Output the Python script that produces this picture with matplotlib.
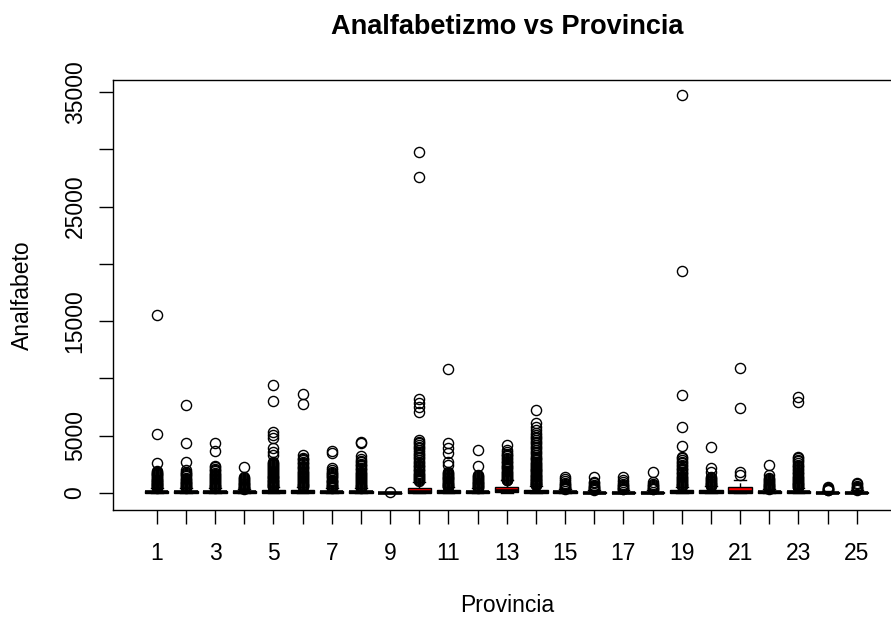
import matplotlib
matplotlib.use("Agg")
import matplotlib.pyplot as plt

plt.rcParams["font.family"] = ["Liberation Sans", "DejaVu Sans"]

provincias = list(range(1, 26))

# box statistics per province
q1 = [30, 25, 30, 20, 35, 35, 25, 30, 5, 40, 35, 25, 100, 45, 20, 15, 15, 15, 35, 40, 40, 20, 30, 10, 15]
med = [70, 60, 70, 50, 80, 85, 60, 70, 20, 90, 80, 60, 180, 100, 50, 40, 40, 40, 80, 100, 100, 50, 70, 30, 40]
q3 = [200, 180, 200, 160, 230, 240, 180, 200, 40, 420, 230, 180, 500, 280, 140, 120, 120, 120, 230, 280, 560, 150, 200, 90, 110]
whis_hi = [450, 400, 450, 350, 520, 540, 400, 450, 90, 1000, 520, 400, 1100, 620, 320, 270, 280, 270, 520, 620, 1150, 340, 450, 200, 250]

outliers = [
    [15500, 5150, 2590, 1950, 1870, 1780, 1700, 1620, 1540, 1460, 1390, 1320, 1250, 1180, 1110, 1050, 990, 930, 870, 810, 760, 710, 660, 610, 560, 510, 470],
    [7680, 4390, 2740, 1980, 1870, 1760, 1650, 1550, 1450, 1350, 1260, 1170, 1080, 1000, 920, 840, 770, 700, 640, 580, 520, 460],
    [4390, 3640, 2360, 2240, 2120, 2000, 1890, 1780, 1670, 1570, 1470, 1370, 1280, 1190, 1100, 1010, 930, 850, 780, 710, 640, 580, 520, 470],
    [2240, 1420, 1330, 1240, 1150, 1060, 980, 900, 830, 760, 690, 630, 570, 510, 460, 410, 370],
    [9400, 8030, 5350, 5060, 4770, 3900, 3600, 3320, 2730, 2600, 2500, 2420, 2340, 2250, 2170, 2090, 2000, 1920, 1840, 1760, 1680, 1600, 1520, 1440, 1360, 1290, 1220, 1150, 1080, 1010, 940, 880, 820, 760, 700, 640, 580, 530],
    [8640, 7770, 3350, 3100, 2980, 2860, 2740, 2620, 2500, 2390, 2280, 2170, 2060, 1950, 1850, 1750, 1650, 1550, 1460, 1370, 1280, 1190, 1110, 1030, 950, 880, 810, 740, 680, 620, 570],
    [3690, 3520, 2150, 1990, 1880, 1770, 1660, 1560, 1460, 1360, 1270, 1180, 1090, 1010, 930, 850, 780, 710, 640, 580, 520, 460],
    [4480, 4400, 3230, 2940, 2800, 2680, 2560, 2440, 2320, 2200, 2090, 1980, 1870, 1760, 1660, 1560, 1460, 1370, 1280, 1190, 1100, 1020, 940, 860, 790, 720, 650, 590, 530, 480],
    [130],
    [29800, 27600, 8180, 7830, 7480, 7100, 4630, 4480, 4330, 4190, 4040, 3900, 3750, 3600, 3450, 3310, 3170, 3030, 2880, 2740, 2590, 2470, 2350, 2230, 2110, 2000, 1890, 1780, 1680, 1580, 1480, 1390, 1300, 1220, 1140, 1060],
    [10800, 4330, 3900, 3460, 2730, 2440, 1870, 1780, 1690, 1600, 1510, 1430, 1350, 1270, 1190, 1110, 1040, 970, 900, 830, 770, 710, 650, 600, 550],
    [3750, 2360, 1570, 1480, 1390, 1300, 1220, 1140, 1060, 980, 910, 840, 770, 700, 640, 580, 520, 460],
    [4190, 3750, 3600, 3450, 3320, 3200, 3080, 2960, 2840, 2720, 2600, 2490, 2380, 2270, 2160, 2060, 1960, 1860, 1770, 1680, 1590, 1500, 1420, 1340, 1260, 1180, 1120],
    [7250, 6080, 5790, 5500, 5210, 5050, 4900, 4770, 4620, 4480, 4330, 4180, 4040, 3900, 3750, 3600, 3460, 3320, 3170, 3050, 2950, 2850, 2750, 2650, 2550, 2450, 2350, 2270, 2200, 2120, 2050, 1970, 1900, 1820, 1750, 1670, 1600, 1530, 1460, 1390, 1330, 1260, 1200, 1140, 1080, 1020, 970, 920, 870, 820, 780, 740, 700],
    [1370, 1200, 1050, 900, 780, 680, 600, 530, 460, 400, 350],
    [1420, 990, 850, 720, 620, 540, 470, 400, 340, 290],
    [1370, 1120, 950, 800, 680, 580, 500, 430, 370, 310],
    [1800, 990, 800, 680, 580, 500, 430, 370, 310],
    [34750, 19380, 8560, 5730, 4100, 3170, 3020, 2880, 2740, 2600, 2470, 2340, 2210, 2090, 1970, 1850, 1740, 1630, 1520, 1420, 1320, 1220, 1130, 1040, 950, 870, 800, 730, 660, 600],
    [3990, 2150, 1860, 1420, 1330, 1240, 1150, 1060, 980, 900, 830, 760, 700, 640],
    [10890, 7390, 1860, 1570],
    [2440, 1570, 1280, 1190, 1100, 1020, 940, 860, 790, 720, 660, 600, 540, 490, 440, 390],
    [8350, 7920, 3170, 3040, 2900, 2760, 2620, 2490, 2360, 2230, 2100, 1980, 1860, 1750, 1640, 1530, 1430, 1330, 1240, 1150, 1060, 980, 900, 820, 750, 680, 620, 560, 500],
    [550, 450, 380, 320, 270, 230],
    [850, 750, 650, 560, 480, 410, 350, 300],
]

stats = []
for i in range(len(provincias)):
    stats.append({
        "q1": q1[i], "med": med[i], "q3": q3[i],
        "whislo": 0, "whishi": whis_hi[i],
        "fliers": outliers[i],
    })

fig = plt.figure(figsize=(8.91, 6.17), dpi=100)
ax = fig.add_axes([113 / 891, 1 - 510 / 617, 787.5 / 891, 430 / 617])

ax.bxp(
    stats,
    positions=provincias,
    widths=0.8,
    capwidths=0.4,
    patch_artist=True,
    boxprops=dict(facecolor="red", edgecolor="black", linewidth=1),
    medianprops=dict(color="black", linewidth=2.6, solid_capstyle="butt"),
    whiskerprops=dict(color="black", linewidth=1, linestyle=(0, (3, 2))),
    capprops=dict(color="black", linewidth=1),
    flierprops=dict(marker="o", markerfacecolor="none", markeredgecolor="black",
                    markersize=7.3, markeredgewidth=1),
)

ax.set_xlim(-0.5, 26.5)
ax.set_ylim(-1480, 36050)

ax.set_xticks(provincias)
ax.set_xticklabels([str(p) if p % 2 == 1 else "" for p in provincias])
yt = [0, 5000, 10000, 15000, 20000, 25000, 30000, 35000]
ax.set_yticks(yt)
ax.set_yticklabels(["0", "5000", "", "15000", "", "25000", "", "35000"])

ax.tick_params(axis="both", length=10, width=1, labelsize=16.5)
ax.tick_params(axis="x", pad=13)
ax.tick_params(axis="y", labelrotation=90, pad=9)
for lbl in ax.get_yticklabels():
    lbl.set_va("center")

for s in ax.spines.values():
    s.set_linewidth(1)

fig.text(507 / 891, 1 - 27 / 617, "Analfabetizmo vs Provincia", fontsize=19.5,
         fontweight="bold", ha="center", va="center")
ax.set_xlabel("Provincia", fontsize=16.5, va="center")
ax.xaxis.set_label_coords(0.5, -95 / 430)
ax.set_ylabel("Analfabeto", fontsize=16.5, va="center")
ax.yaxis.set_label_coords(-91 / 787.5, 0.5)

fig.savefig("out.png", dpi=100)
